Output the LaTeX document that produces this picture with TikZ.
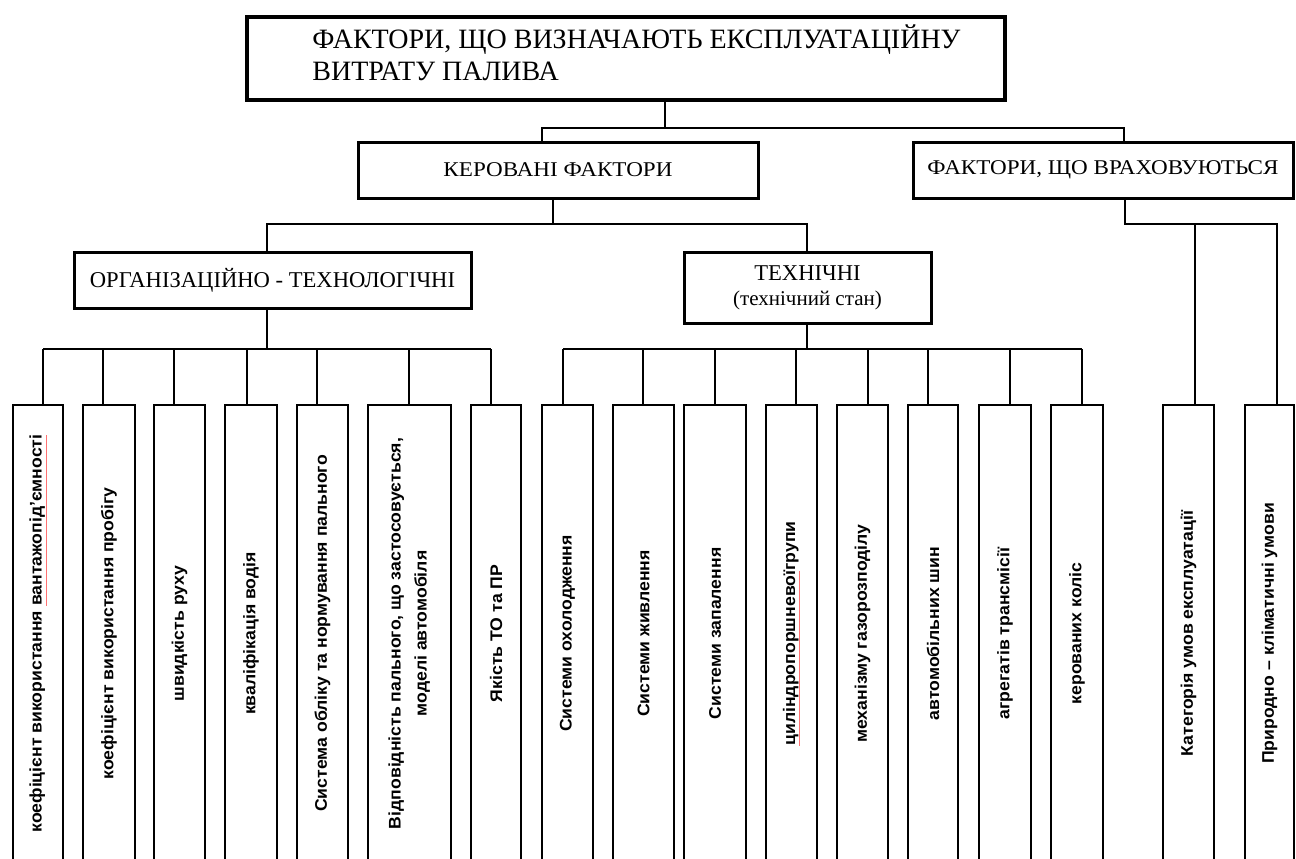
\documentclass[tikz,border=0pt]{standalone}
\usepackage{fontspec}
\setmainfont{Liberation Serif}
\newfontfamily\midfont[FakeStretch=1.1]{Liberation Serif}
\newfontfamily\leaffont[FakeStretch=1.05]{Liberation Sans}
\newcommand\redul[1]{\setbox0\hbox{#1}\rlap{\color{red!55}\rule[-2.4pt]{\wd0}{0.45pt}}\box0}
\newcommand\vt[1]{\rotatebox{90}{#1}}
\tikzset{
  box/.style={draw, line width=1.5pt, inner sep=0pt, outer sep=0pt},
  topbox/.style={box, line width=2.2pt},
  headbox/.style={box, minimum height=28pt, font=\midfont\fontsize{10.5}{12}\selectfont},
  thirdbox/.style={box, font=\fontsize{11.3}{12.5}\selectfont, align=center},
  leafbox/.style={box, line width=1.4pt, minimum height=228.5pt,
    font=\leaffont\bfseries\fontsize{8.4}{10}\selectfont},
  conn/.style={line width=1.2pt},
}
\begin{document}
\begin{tikzpicture}[x=0.5pt,y=-0.5pt]
\useasboundingbox (0,0) rectangle (1296,858);
\begin{scope}
\clip (0,0) rectangle (1296,858);
% ---------- top ----------
\node[topbox, minimum width=379pt, minimum height=41.5pt] (top) at (626,58.5) {};
\node[anchor=north west, inner sep=0pt, align=left,
      font=\fontsize{14}{16}\selectfont] (toptitle) at (312,24)
  {ФАКТОРИ, ЩО ВИЗНАЧАЮТЬ ЕКСПЛУАТАЦІЙНУ\\ВИТРАТУ ПАЛИВА};
% ---------- level 2 ----------
\node[headbox, minimum width=200pt] (kf) at (558,170) {КЕРОВАНІ ФАКТОРИ};
\node[headbox, minimum width=190pt] (fv) at (1103,170) {ФАКТОРИ, ЩО ВРАХОВУЮТЬСЯ};
% ---------- level 3 ----------
\node[thirdbox, minimum width=198.5pt, minimum height=28pt] (org) at (272.5,280)
  {ОРГАНІЗАЦІЙНО - ТЕХНОЛОГІЧНІ};
\node[thirdbox, minimum width=123.5pt, minimum height=35.5pt] (tech) at (807.5,287.5)
  {ТЕХНІЧНІ\\{\fontsize{10.5}{12}\selectfont (технічний стан)}};
% ---------- leaves ----------
\node[leafbox, minimum width=25pt]   (l1)  at (38,633.5)   {\vt{коефіцієнт використання \redul{вантажопід’ємності}}};
\node[leafbox, minimum width=26pt]   (l2)  at (109,633.5)  {\vt{коефіцієнт використання пробігу}};
\node[leafbox, minimum width=25.5pt] (l3)  at (179.5,633.5){\vt{швидкість руху}};
\node[leafbox, minimum width=26pt]   (l4)  at (251,633.5)  {\vt{кваліфікація водія}};
\node[leafbox, minimum width=25.5pt] (l5)  at (322.5,633.5){\vt{Система обліку та нормування пального}};
\node[leafbox, minimum width=41.5pt] (l6)  at (409.5,633.5){\vt{\begin{tabular}{@{}c@{}}Відповідність пального, що застосовується,\\[3pt]моделі автомобіля\end{tabular}}};
\node[leafbox, minimum width=25pt]   (l7)  at (496,633.5)  {\vt{Якість ТО та ПР}};
\node[leafbox, minimum width=25.5pt] (l8)  at (567.5,633.5){\vt{Системи охолодження}};
\node[leafbox, minimum width=30.5pt] (l9)  at (643.5,633.5){\vt{Системи живлення}};
\node[leafbox, minimum width=31pt]   (l10) at (715,633.5)  {\vt{Системи запалення}};
\node[leafbox, minimum width=25.5pt] (l11) at (791.5,633.5){\vt{\redul{циліндропоршневої} групи}};
\node[leafbox, minimum width=25.5pt] (l12) at (862.5,633.5){\vt{механізму газорозподілу}};
\node[leafbox, minimum width=25pt]   (l13) at (933,633.5)  {\vt{автомобільних шин}};
\node[leafbox, minimum width=26pt]   (l14) at (1005,633.5) {\vt{агрегатів трансмісії}};
\node[leafbox, minimum width=26pt]   (l15) at (1077,633.5) {\vt{керованих коліс}};
\node[leafbox, minimum width=25.5pt] (l16) at (1188.5,633.5){\vt{Категорія умов експлуатації}};
\node[leafbox, minimum width=24.5pt] (l17) at (1269.5,633.5){\vt{Природно – кліматичні умови}};
% ---------- connectors ----------
\coordinate (j0) at (665,128);
\coordinate (jkf) at (542,128);
\coordinate (jfv) at (1124,128);
\draw[conn] (top.south -| j0) -- (j0);
\draw[conn] (kf.north -| jkf) -- (jkf) -- (jfv) -- (fv.north -| jfv);
\coordinate (k0) at (553,224);
\coordinate (korg) at (267,224);
\coordinate (ktech) at (807,224);
\draw[conn] (kf.south -| k0) -- (k0);
\draw[conn] (org.north -| korg) -- (korg) -- (ktech) -- (tech.north -| ktech);
\coordinate (f0) at (1125,224);
\coordinate (f16) at (1195,224);
\coordinate (f17) at (1277,224);
\draw[conn] (fv.south -| f0) -- (f0) -- (f17) -- (l17.north -| f17);
\draw[conn] (f16) -- (l16.north -| f16);
% organisational bus
\coordinate (o0) at (267,349);
\draw[conn] (org.south -| o0) -- (o0);
\foreach \n/\x in {1/43,2/103,3/174,4/247,5/317,6/409,7/491,
                   8/563,9/643,10/715,11/796,12/868,13/928,14/1010,15/1082}
  {\coordinate (s\n) at (\x,349);
   \draw[conn] (s\n) -- (l\n.north -| s\n);}
\draw[conn] (s1) -- (s7);
\coordinate (t0) at (807,349);
\draw[conn] (tech.south -| t0) -- (t0);
\draw[conn] (s8) -- (s15);
\end{scope}
\end{tikzpicture}
\end{document}
